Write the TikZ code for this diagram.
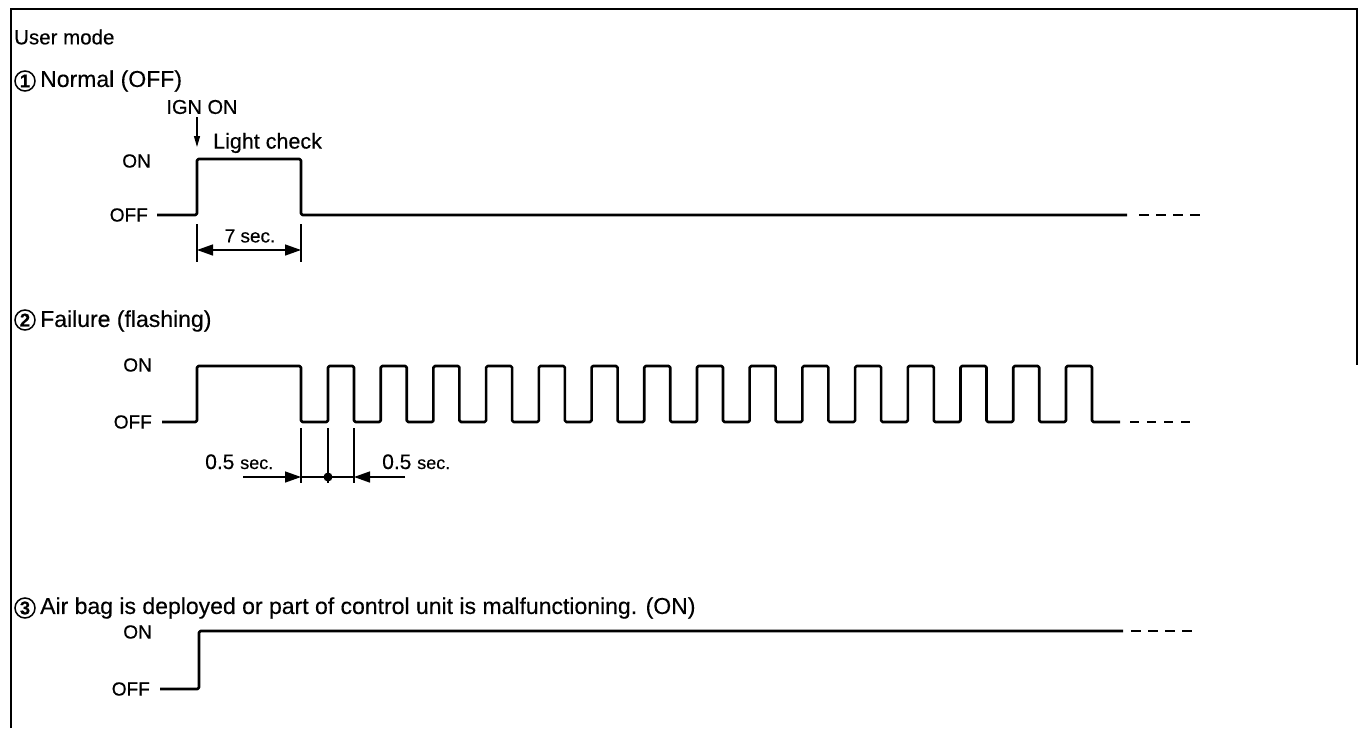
\documentclass[tikz,border=0pt]{standalone}
\usepackage{fontspec}
\setmainfont{Liberation Sans}[FakeBold=0.4]
\usetikzlibrary{arrows.meta}
\begin{document}
\begin{tikzpicture}[x=1pt,y=-1pt,
  frame/.style={line width=1.8pt},
  wave/.style={line width=2.6pt, line join=round, rounded corners=1.5pt},
  dashwave/.style={line width=2.6pt},
  dimln/.style={line width=1.4pt},
  bigtip/.style={-{Triangle[length=16pt,width=11pt]}},
  bothtip/.style={{Triangle[length=16pt,width=11pt]}-{Triangle[length=16pt,width=11pt]}},
  igntip/.style={-{Triangle[length=11pt,width=6pt]}, line width=1.3pt},
  lbl/.style={font=\fontsize{19}{21}\selectfont, inner sep=0pt},
  ttl/.style={font=\fontsize{23}{26}\selectfont, inner sep=0pt, anchor=west},
  num/.style={circle, draw, line width=1.5pt, minimum size=20pt, inner sep=0pt, font=\fontsize{18.5}{18.5}\selectfont\bfseries},
  dimtxt/.style={font=\fontsize{19}{21}\selectfont, inner sep=0pt}
]
\useasboundingbox (0,0) rectangle (1359,728);
% frame
\coordinate (fbl) at (11,728);
\coordinate (ftl) at (11,9);
\coordinate (ftr) at (1357,9);
\coordinate (fbr) at (1357,365);
\draw[frame] (fbl) -- (ftl) -- (ftr) -- (fbr);

\node[ttl, font=\fontsize{20.5}{24}\selectfont] (user) at (14,37) {User mode};

% ---------- section 1 ----------
\node[num] (c1) at (25,81) {1};
\node[ttl] (t1) at (40,81) {Normal (OFF)};
\node[lbl, font=\fontsize{20}{22}\selectfont] (ign) at (202,107) {IGN ON};
\coordinate (igntipc) at (197,147);
\draw[igntip] (ign.south -| igntipc) ++(0,3) -- (igntipc);
\node[ttl, font=\fontsize{21.5}{24}\selectfont] (lc) at (213,143) {Light check};
\node[lbl, anchor=east] (on1) at (151,161) {ON};
\node[lbl, anchor=east] (off1) at (148,215) {OFF};
\coordinate (a0) at (157,215);
\coordinate (a1) at (197,215);
\coordinate (a2) at (197,159);
\coordinate (a3) at (301,159);
\coordinate (a4) at (301,215);
\coordinate (a5) at (1127,215);
\coordinate (a6) at (1139,215);
\coordinate (a7) at (1202,215);
\draw[wave] (a0) -- (a1) -- (a2) -- (a3) -- (a4) -- (a5);
\draw[dashwave, dash pattern=on 10pt off 7pt] (a6) -- (a7);
% 7 sec dimension
\coordinate (e1t) at (197,224); \coordinate (e1b) at (197,262);
\coordinate (e2t) at (301,224); \coordinate (e2b) at (301,262);
\draw[dimln] (e1t) -- (e1b);
\draw[dimln] (e2t) -- (e2b);
\coordinate (d1l) at (197,250); \coordinate (d1r) at (301,250);
\draw[dimln, bothtip] (d1l) -- (d1r);
\node[dimtxt] (sev) at (250,236) {7 sec.};

% ---------- section 2 ----------
\node[num] (c2) at (25,320) {2};
\node[ttl] (t2) at (40,321) {Failure (flashing)};
\node[lbl, anchor=east] (on2) at (152,365) {ON};
\node[lbl, anchor=east] (off2) at (152,422) {OFF};
\coordinate (b0) at (162,422);
\coordinate (b1) at (197,422);
\coordinate (b2) at (197,366);
\coordinate (b3) at (301,366);
\coordinate (b4) at (301,422);
\coordinate (b5) at (1120,422);
\coordinate (b6) at (1130,422);
\coordinate (b7) at (1197,422);
\draw[wave] (b0) -- (b1) -- (b2) -- (b3) -- (b4)
  \foreach \i in {0,...,14} { -- ({328+52.71*\i},422) -- ++(0,-56) -- ++(26,0) -- ++(0,56) }
  -- (b5);
\draw[dashwave, dash pattern=on 9pt off 8pt] (b6) -- (b7);
% 0.5 sec dimension
\coordinate (g1t) at (301,428); \coordinate (g1b) at (301,483);
\coordinate (g2t) at (328,428); \coordinate (g2b) at (328,483);
\coordinate (g3t) at (354,428); \coordinate (g3b) at (354,483);
\draw[dimln] (g1t) -- (g1b);
\draw[dimln] (g2t) -- (g2b);
\draw[dimln] (g3t) -- (g3b);
\coordinate (h0) at (243,477);
\coordinate (h1) at (301,477);
\coordinate (h2) at (354,477);
\coordinate (h3) at (405,477);
\draw[dimln, bigtip] (h0) -- (h1);
\draw[dimln] (h1) -- (h2);
\draw[dimln, bigtip] (h3) -- (h2);
\fill (328,477) circle (4.5pt);
\node[anchor=base west, inner sep=0pt] (hl) at (205,469)
  {\fontsize{21}{22}\selectfont 0.5 \fontsize{18}{19}\selectfont sec.};
\node[anchor=base west, inner sep=0pt] (hr) at (382,469)
  {\fontsize{21}{22}\selectfont 0.5 \fontsize{18}{19}\selectfont sec.};

% ---------- section 3 ----------
\node[num] (c3) at (25,608) {3};
\node[ttl] (t3) at (40,608) {Air bag is deployed or part of control unit is malfunctioning. (ON)};
\node[lbl, anchor=east] (on3) at (152,632) {ON};
\node[lbl, anchor=east] (off3) at (150,689) {OFF};
\coordinate (k0) at (160,689);
\coordinate (k1) at (199,689);
\coordinate (k2) at (199,631);
\coordinate (k3) at (1123,631);
\coordinate (k4) at (1131,631);
\coordinate (k5) at (1196,631);
\draw[wave] (k0) -- (k1) -- (k2) -- (k3);
\draw[dashwave, dash pattern=on 10pt off 7pt] (k4) -- (k5);
\end{tikzpicture}
\end{document}
